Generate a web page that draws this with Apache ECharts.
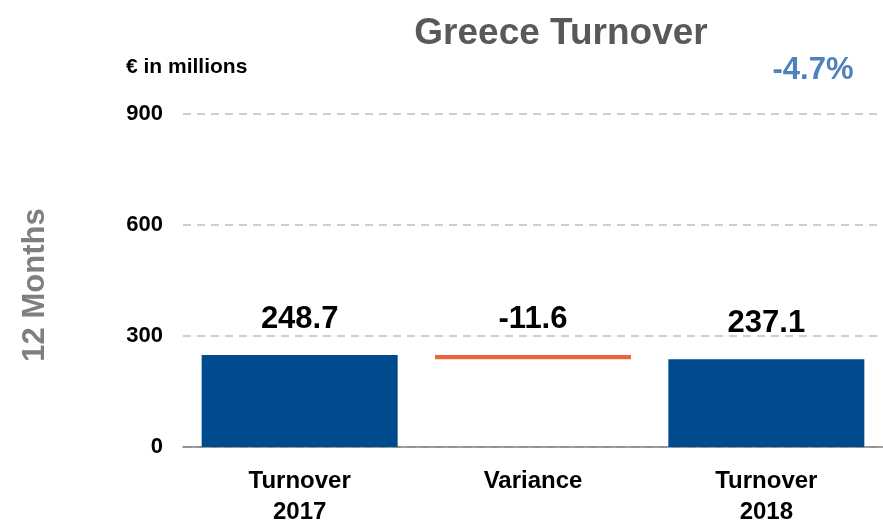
<!DOCTYPE html>
<html><head><meta charset="utf-8">
<script src="https://cdn.jsdelivr.net/npm/echarts@6/dist/echarts.min.js"></script>
<style>html,body{margin:0;padding:0;background:#fff}#c{width:883px;height:521px}</style>
</head><body><div id="c"></div>
<script>
const categories = ['Turnover\n2017', 'Variance', 'Turnover\n2018'];
const totals = [248.7, null, 237.1];
const variance = -11.6;
const yTicks = [0, 300, 600, 900];
const changePct = '-4.7%';

const FONT = 'Liberation Sans, Arial';
const varBase = totals[2];
const baseData = [null, varBase, null];
const varData = [null, Math.abs(variance), null];
const labelStyle = {show: true, position: 'top', distance: 20, fontSize: 31, fontWeight: 'bold', color: '#000', fontFamily: FONT};

const chart = echarts.init(document.getElementById('c'));
chart.setOption({
  animation: false,
  grid: {left: 183, right: 0, top: 114, bottom: 74, outerBoundsMode: 'none', containLabel: false},
  title: [
    {text: 'Greece Turnover', left: 556, top: 10, textAlign: 'center', textStyle: {fontSize: 37, fontWeight: 'bold', color: '#595959', fontFamily: FONT}},
    {text: changePct, left: 808, top: 50, textAlign: 'center', textStyle: {fontSize: 31, fontWeight: 'bold', color: '#4F81BD', fontFamily: FONT}},
    {text: '€ in millions', left: 121, top: 52, textStyle: {fontSize: 21, fontWeight: 'bold', color: '#000', fontFamily: FONT}}
  ],
  graphic: [{type: 'text', x: 35, y: 285, rotation: Math.PI/2,
    style: {text: '12 Months', fontSize: 31, fontWeight: 'bold', fill: '#7F7F7F', fontFamily: FONT, align: 'center', verticalAlign: 'middle'}}],
  xAxis: {type: 'category', data: categories,
    axisLine: {lineStyle: {color: '#808080', width: 1.5}}, axisTick: {show: false},
    axisLabel: {fontSize: 24, fontWeight: 'bold', color: '#000', margin: 19, lineHeight: 31, fontFamily: FONT}},
  yAxis: {type: 'value', min: yTicks[0], max: yTicks[yTicks.length-1], interval: 300,
    axisLine: {show: false}, axisTick: {show: false},
    axisLabel: {fontSize: 22, fontWeight: 'bold', color: '#000', margin: 20, fontFamily: FONT},
    splitLine: {lineStyle: {type: [8, 6], color: '#BFBFBF', width: 1.5}}},
  series: [
    {type: 'bar', stack: 'w', data: baseData, itemStyle: {color: 'transparent'}, barCategoryGap: '16%', silent: true},
    {type: 'bar', stack: 'w', data: varData, itemStyle: {color: '#E8643A'},
      label: Object.assign({}, labelStyle, {formatter: () => variance.toFixed(1)})},
    {type: 'bar', stack: 'w', data: totals, itemStyle: {color: '#004B8D'},
      label: Object.assign({}, labelStyle, {formatter: p => p.value.toFixed(1)})}
  ]
});
</script></body></html>
